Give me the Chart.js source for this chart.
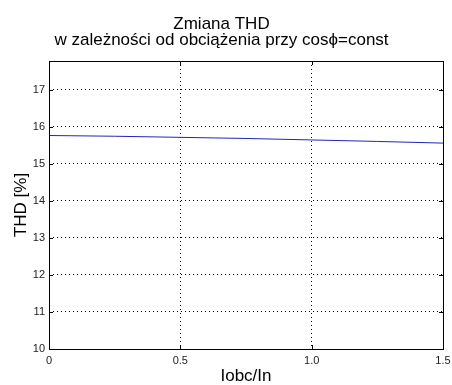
<!DOCTYPE html>
<html>
<head>
<meta charset="utf-8">
<script src="https://cdn.jsdelivr.net/npm/chart.js@4"></script>
<style>
  html, body { margin: 0; padding: 0; background: #fff; }
  #wrap { width: 452px; height: 385px; }
</style>
</head>
<body>
<div id="wrap"><canvas id="thdChart" width="452" height="385"></canvas></div>
<script>
// load ratio Iobc/In and measured THD [%]
const loadRatio = [0, 0.25, 0.5, 0.75, 1.0, 1.25, 1.5];
const thdValues = [15.76, 15.74, 15.71, 15.68, 15.64, 15.60, 15.555];
const xTicks = [0, 0.5, 1, 1.5];
const yTicks = [10, 11, 12, 13, 14, 15, 16, 17];

const FONT = '"Liberation Sans", Arial, sans-serif';

// MATLAB style frame with inward ticks
const boxPlugin = {
    id: 'boxPlugin',
    afterDraw(chart) {
        const ctx = chart.ctx;
        const a = chart.chartArea;
        const xs = chart.scales.x, ys = chart.scales.y;
        ctx.save();
        ctx.strokeStyle = '#000';
        ctx.lineWidth = 1;
        ctx.setLineDash([]);
        ctx.strokeRect(Math.round(a.left) + 0.5, Math.round(a.top) + 0.5,
            Math.round(a.right - a.left), Math.round(a.bottom - a.top));
        ctx.beginPath();
        const len = 4;
        xTicks.forEach(v => {
            const px = Math.round(xs.getPixelForValue(v)) + 0.5;
            ctx.moveTo(px, a.bottom); ctx.lineTo(px, a.bottom - len);
            ctx.moveTo(px, a.top); ctx.lineTo(px, a.top + len);
        });
        yTicks.forEach(v => {
            const py = Math.round(ys.getPixelForValue(v)) + 0.5;
            ctx.moveTo(a.left, py); ctx.lineTo(a.left + len, py);
            ctx.moveTo(a.right, py); ctx.lineTo(a.right - len, py);
        });
        ctx.stroke();
        ctx.restore();
    }
};

new Chart(document.getElementById('thdChart').getContext('2d'), {
    type: 'line',
    data: {
        datasets: [{
            data: loadRatio.map((x, i) => ({ x: x, y: thdValues[i] })),
            borderColor: '#2424b8',
            borderWidth: 1,
            pointRadius: 0,
            tension: 0,
            fill: false
        }]
    },
    options: {
        responsive: false,
        animation: false,
        layout: { padding: { left: 0, right: 9, top: 0, bottom: 0 } },
        plugins: {
            legend: { display: false },
            tooltip: { enabled: false },
            title: {
                display: true,
                text: ['Zmiana THD', 'w zależności od obciążenia przy cosϕ=const'],
                color: '#000',
                font: { family: FONT, size: 17, weight: 'normal', lineHeight: '16px' },
                padding: { top: 16, bottom: 13 }
            }
        },
        scales: {
            x: {
                type: 'linear',
                min: 0,
                max: 1.5,
                afterFit(scale) {
                    scale.height = 36;
                    scale.paddingLeft = 0;
                    scale.paddingRight = 0;
                },
                afterBuildTicks(scale) { scale.ticks = xTicks.map(v => ({ value: v })); },
                ticks: {
                    color: '#222',
                    font: { family: FONT, size: 11 },
                    padding: 5,
                    maxRotation: 0
                },
                grid: {
                    color: '#000',
                    lineWidth: 1,
                    drawTicks: false
                },
                border: { display: false, dash: [1, 3] },
                title: {
                    display: true,
                    text: 'Iobc/In',
                    color: '#000',
                    font: { family: FONT, size: 17, lineHeight: 1 },
                    padding: { top: 0, bottom: 0 }
                }
            },
            y: {
                type: 'linear',
                min: 10,
                max: 17.77,
                afterFit(scale) {
                    scale.width = 49;
                    scale.paddingTop = 0;
                    scale.paddingBottom = 0;
                },
                afterBuildTicks(scale) { scale.ticks = yTicks.map(v => ({ value: v })); },
                ticks: {
                    color: '#222',
                    font: { family: FONT, size: 11 },
                    padding: 4
                },
                grid: {
                    color: '#000',
                    lineWidth: 1,
                    drawTicks: false
                },
                border: { display: false, dash: [1, 3] },
                title: {
                    display: true,
                    text: 'THD [%]',
                    color: '#000',
                    font: { family: FONT, size: 17 },
                    padding: { top: 11, bottom: 0 }
                }
            }
        }
    },
    plugins: [boxPlugin]
});
</script>
</body>
</html>
